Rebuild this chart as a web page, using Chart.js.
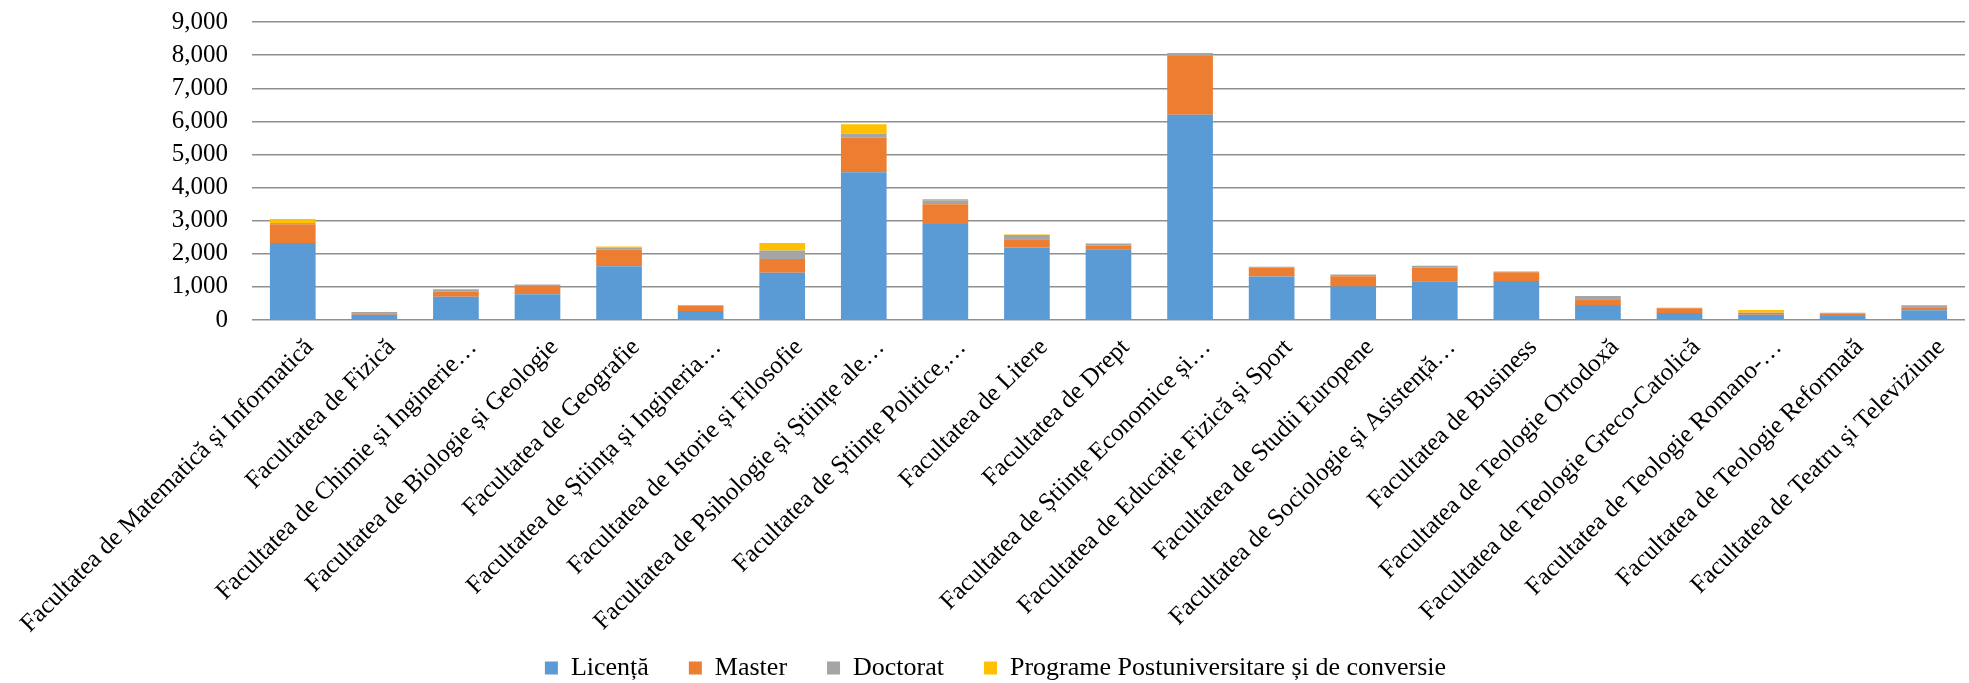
<!DOCTYPE html>
<html lang="ro">
<head>
  <meta charset="UTF-8">
  <title>Studenți pe facultăți</title>
  <script src="https://cdn.jsdelivr.net/npm/chart.js@4"></script>
  <style>
    html, body { margin: 0; padding: 0; background: #fff; }
    .chart-container { width: 1969px; height: 683px; }
  </style>
</head>
<body>
  <div class="chart-container">
    <canvas id="facChart"></canvas>
  </div>
  <script>
    // categorii (etichete cum apar în grafic)
    const facultati = [
      'Facultatea de Matematică și Informatică',
      'Facultatea de Fizică',
      'Facultatea de Chimie și Inginerie…',
      'Facultatea de Biologie și Geologie',
      'Facultatea de Geografie',
      'Facultatea de Știința și Ingineria…',
      'Facultatea de Istorie și Filosofie',
      'Facultatea de Psihologie și Științe ale…',
      'Facultatea de Științe Politice,…',
      'Facultatea de Litere',
      'Facultatea de Drept',
      'Facultatea de Științe Economice și…',
      'Facultatea de Educație Fizică și Sport',
      'Facultatea de Studii Europene',
      'Facultatea de Sociologie și Asistență…',
      'Facultatea de Business',
      'Facultatea de Teologie Ortodoxă',
      'Facultatea de Teologie Greco-Catolică',
      'Facultatea de Teologie Romano-…',
      'Facultatea de Teologie Reformată',
      'Facultatea de Teatru și Televiziune'
    ];

    // valori estimate din imagine
    const licenta   = [2325, 160, 705, 780, 1625, 275, 1430, 4465, 2900, 2190, 2140, 6200, 1310, 1010, 1170, 1180, 455, 212, 160, 120, 293];
    const master    = [565, 45, 150, 240, 495, 150, 410, 1050, 595, 250, 110, 1770, 265, 315, 415, 265, 170, 140, 60, 70, 90];
    const doctorat  = [40, 40, 70, 50, 60, 20, 260, 110, 120, 130, 60, 90, 30, 50, 50, 20, 100, 20, 10, 30, 60];
    const programe  = [120, 0, 5, 0, 40, 0, 225, 290, 40, 10, 0, 0, 0, 0, 0, 0, 0, 0, 70, 0, 0];

    const yTicks = { min: 0, max: 9000, step: 1000 };

    const serif = "'Liberation Serif', 'Times New Roman', serif";

    function ds(label, data, color) {
      return {
        label: label,
        data: data,
        backgroundColor: color,
        borderWidth: 0,
        categoryPercentage: 1.0,
        barPercentage: 0.56
      };
    }

    // legenda mai joasa, lipita de marginea de jos
    const legendFit = {
      id: 'legendFit',
      beforeInit(chart) {
        const fit = chart.legend.fit;
        chart.legend.fit = function () {
          fit.call(this);
          this.height = 68;
        };
      }
    };

    const ctx = document.getElementById('facChart').getContext('2d');
    new Chart(ctx, {
      type: 'bar',
      data: {
        labels: facultati,
        datasets: [
          ds('Licență', licenta, '#5B9BD5'),
          ds('Master', master, '#ED7D31'),
          ds('Doctorat', doctorat, '#A5A5A5'),
          ds('Programe Postuniversitare și de conversie', programe, '#FFC000')
        ]
      },
      plugins: [legendFit],
      options: {
        responsive: true,
        maintainAspectRatio: false,
        animation: false,
        layout: { padding: { top: 22, right: 4, left: 26, bottom: 0 } },
        plugins: {
          legend: {
            position: 'bottom',
            labels: {
              font: { family: serif, size: 26 },
              color: '#000',
              boxWidth: 13,
              boxHeight: 13,
              padding: 40
            }
          },
          tooltip: { enabled: false }
        },
        scales: {
          x: {
            stacked: true,
            grid: { display: false },
            border: { display: false },
            ticks: {
              autoSkip: false,
              minRotation: 45,
              maxRotation: 45,
              color: '#000',
              padding: 5,
              labelOffset: 17,
              font: { family: serif, size: 25 }
            },
            afterFit: function (scale) {
              scale.height = 295;
              // etichetele lungi pot trece sub axa, nu le taia
              scale._computeLabelArea = function () { return undefined; };
            }
          },
          y: {
            stacked: true,
            min: yTicks.min,
            max: yTicks.max,
            border: { display: false },
            grid: { color: '#8f8f8f', lineWidth: 1.4, drawTicks: false },
            ticks: {
              autoSkip: false,
              stepSize: yTicks.step,
              color: '#000',
              padding: 24,
              font: { family: serif, size: 25 }
            },
            afterFit: function (scale) {
              scale.paddingTop = 14;
              scale.paddingBottom = 14;
            }
          }
        }
      }
    });
  </script>
</body>
</html>
